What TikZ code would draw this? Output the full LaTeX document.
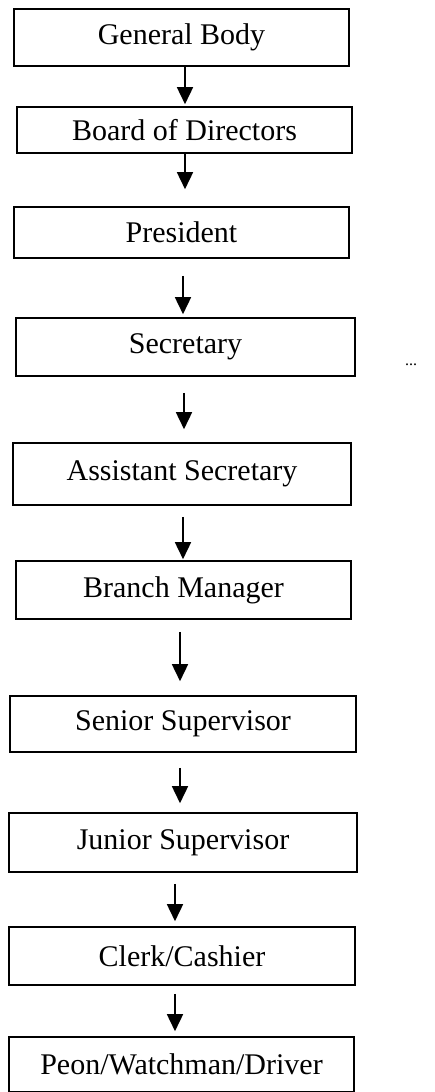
\documentclass[tikz,border=0pt]{standalone}
\usepackage{fontspec}
\setmainfont{Liberation Serif}
\usetikzlibrary{arrows.meta}
\begin{document}
\begin{tikzpicture}[x=1pt,y=1pt,
  orgbox/.style={draw=black, line width=1.6pt, inner sep=0pt, font=\fontsize{30}{35}\selectfont},
  arr/.style={line width=1.6pt, -{Triangle[width=16pt,length=17pt]}}]
\useasboundingbox (0,0) rectangle (435,-1092);
\node[orgbox, minimum width=335pt, minimum height=57pt] (gb) at (181.5,-37.5) {General Body};
\node[orgbox, minimum width=335pt, minimum height=46pt] (bod) at (184.5,-130) {Board of Directors};
\node[orgbox, minimum width=335pt, minimum height=51pt] (pres) at (181.5,-232.5) {President};
\node[orgbox, minimum width=339pt, minimum height=58pt] (sec) at (185.5,-347) {Secretary};
\node[orgbox, minimum width=338pt, minimum height=62pt] (asec) at (182,-474) {Assistant Secretary};
\node[orgbox, minimum width=335pt, minimum height=58pt] (bm) at (183.5,-590) {Branch Manager};
\node[orgbox, minimum width=346pt, minimum height=56pt] (ss) at (183,-724) {Senior Supervisor};
\node[orgbox, minimum width=348pt, minimum height=59pt] (js) at (183,-842.5) {Junior Supervisor};
\node[orgbox, minimum width=346pt, minimum height=58pt] (cc) at (182,-956) {Clerk/Cashier};
\node[orgbox, minimum width=345pt, minimum height=55pt] (peon) at (181.5,-1064.5) {Peon/Watchman/Driver};
\node[font=\fontsize{16}{18}\selectfont, inner sep=0pt] (dots) at (411,-365) {...};
\draw[arr, shorten >=2pt] ([xshift=3.5pt]gb.south) -- ([xshift=3.5pt]gb.south |- bod.north);
\draw[arr, shorten >=17pt] ([xshift=0.5pt]bod.south) -- ([xshift=0.5pt]bod.south |- pres.north);
\draw[arr, shorten <=17pt, shorten >=3pt] ([xshift=1.5pt]pres.south) -- ([xshift=1.5pt]pres.south |- sec.north);
\draw[arr, shorten <=16pt, shorten >=13pt] ([xshift=-1.5pt]sec.south) -- ([xshift=-1.5pt]sec.south |- asec.north);
\draw[arr, shorten <=11pt, shorten >=1pt] ([xshift=1pt]asec.south) -- ([xshift=1pt]asec.south |- bm.north);
\draw[arr, shorten <=12pt, shorten >=14pt] ([xshift=-3.5pt]bm.south) -- ([xshift=-3.5pt]bm.south |- ss.north);
\draw[arr, shorten <=15pt, shorten >=9pt] ([xshift=-3pt]ss.south) -- ([xshift=-3pt]ss.south |- js.north);
\draw[arr, shorten <=11pt, shorten >=5pt] ([xshift=-8pt]js.south) -- ([xshift=-8pt]js.south |- cc.north);
\draw[arr, shorten <=8pt, shorten >=5pt] ([xshift=-7pt]cc.south) -- ([xshift=-7pt]cc.south |- peon.north);
\end{tikzpicture}
\end{document}
